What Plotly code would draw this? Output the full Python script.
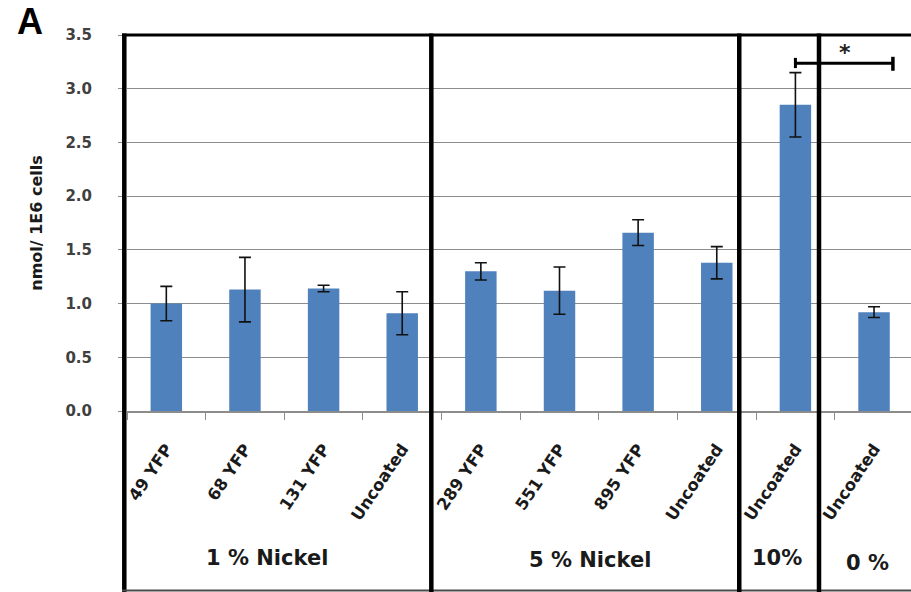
import plotly.graph_objects as go

# Nickel uptake per 1E6 cells, grouped by nickel content of the particles
labels = ["49 YFP", "68 YFP", "131 YFP", "Uncoated",
          "289 YFP", "551 YFP", "895 YFP", "Uncoated",
          "Uncoated",
          "Uncoated"]
values = [1.00, 1.13, 1.14, 0.91,
          1.30, 1.12, 1.66, 1.38,
          2.85,
          0.92]
errors = [0.16, 0.30, 0.03, 0.20,
          0.08, 0.22, 0.12, 0.15,
          0.30,
          0.05]
group_names = ["1 % Nickel", "5 % Nickel", "10%", "0 %"]
y_ticks = [0.0, 0.5, 1.0, 1.5, 2.0, 2.5, 3.0, 3.5]

positions = list(range(len(labels)))

BAR_BLUE = "#4F81BD"
GRID = "#8c8c8c"
FONT = "DejaVu Sans"

fig = go.Figure()
fig.add_trace(go.Bar(
    x=positions,
    y=values,
    width=0.4,
    marker=dict(color=BAR_BLUE, line=dict(width=0)),
    error_y=dict(type="data", array=errors, visible=True,
                 color="#111111", thickness=1.6, width=6),
    showlegend=False,
    hoverinfo="y",
))

# Frame: thick left border, group separators, top border and bottom rule
BOTTOM = -0.483
shapes = [
    dict(type="line", xref="paper", yref="paper", xsizemode="pixel", xanchor=0,
         x0=-2.7, x1=-2.7, y0=BOTTOM, y1=1.004,
         line=dict(color="black", width=4.5), layer="above"),
    dict(type="line", xref="paper", yref="paper", xsizemode="pixel", xanchor=0,
         x0=-5, x1=800, y0=1, y1=1,
         line=dict(color="black", width=3), layer="above"),
    dict(type="line", xref="paper", yref="paper", xsizemode="pixel", xanchor=0,
         x0=-5, x1=800, y0=-0.4775, y1=-0.4775,
         line=dict(color="#4a4a4a", width=2), layer="above"),
]
for sep in [3.37, 7.286, 8.30]:
    shapes.append(dict(type="line", xref="x", yref="paper",
                       x0=sep, x1=sep, y0=BOTTOM, y1=1.004,
                       line=dict(color="black", width=4.5), layer="above"))

# Significance bracket between the 10% and 0% uncoated samples
br_left, br_right, br_y = 8.0, 9.24, 3.237
shapes += [
    dict(type="line", xref="x", yref="y", x0=br_left, x1=br_right, y0=br_y, y1=br_y,
         line=dict(color="black", width=3), layer="above"),
    dict(type="line", xref="x", yref="y", x0=br_left, x1=br_left, y0=br_y - 0.045, y1=br_y + 0.05,
         line=dict(color="black", width=3), layer="above"),
    dict(type="line", xref="x", yref="y", x0=br_right, x1=br_right, y0=br_y - 0.07, y1=br_y + 0.06,
         line=dict(color="black", width=3.5), layer="above"),
]

annotations = [
    dict(text="*", xref="x", yref="y", x=8.63, y=3.34, showarrow=False,
         font=dict(family=FONT, size=22, color="#222222", weight="bold"),
         xanchor="center", yanchor="middle"),
    dict(text="A", xref="paper", yref="paper", x=-0.124, y=1.038, showarrow=False,
         font=dict(family="Liberation Sans", size=36, color="black", weight="bold"),
         xanchor="center", yanchor="middle", height=36),
]
group_x = [1.285, 5.39, 7.76, 8.92]
group_y = [-0.391, -0.396, -0.391, -0.403]
for name, gx, gy in zip(group_names, group_x, group_y):
    annotations.append(dict(text=name, xref="x", yref="paper", x=gx, y=gy,
                            showarrow=False, xanchor="center", yanchor="middle",
                            font=dict(family=FONT, size=21, color="#1a1a1a", weight="bold")))

fig.update_layout(
    width=911, height=592,
    margin=dict(l=127, r=0, t=35, b=181, pad=0),
    paper_bgcolor="white", plot_bgcolor="white",
    bargap=0.6,
    shapes=shapes,
    annotations=annotations,
    xaxis=dict(
        range=[-0.5, 9.47],
        tickmode="array", tickvals=positions, ticktext=labels,
        ticks="", tickangle=-56, ticklabelstandoff=20,
        tickfont=dict(family=FONT, size=16.5, color="#1a1a1a", weight="bold"),
        showline=True, linecolor=GRID, linewidth=1.5,
        showgrid=False, zeroline=False,
        minor=dict(tick0=0.5, dtick=1, ticks="outside", ticklen=7,
                   tickcolor=GRID, tickwidth=1.2, showgrid=False),
    ),
    yaxis=dict(
        range=[0, 3.5],
        tickmode="array", tickvals=y_ticks, tickformat=".1f",
        ticks="outside", ticklen=8, tickcolor=GRID, tickwidth=1.2,
        ticklabelstandoff=23,
        tickfont=dict(family=FONT, size=15, color="#404040", weight="bold"),
        showgrid=True, gridcolor=GRID, gridwidth=1,
        zeroline=False, showline=False,
        title=dict(text="nmol/ 1E6 cells", standoff=18,
                   font=dict(family=FONT, size=16, color="#1a1a1a", weight="bold")),
    ),
)

fig.write_html("out.html")
